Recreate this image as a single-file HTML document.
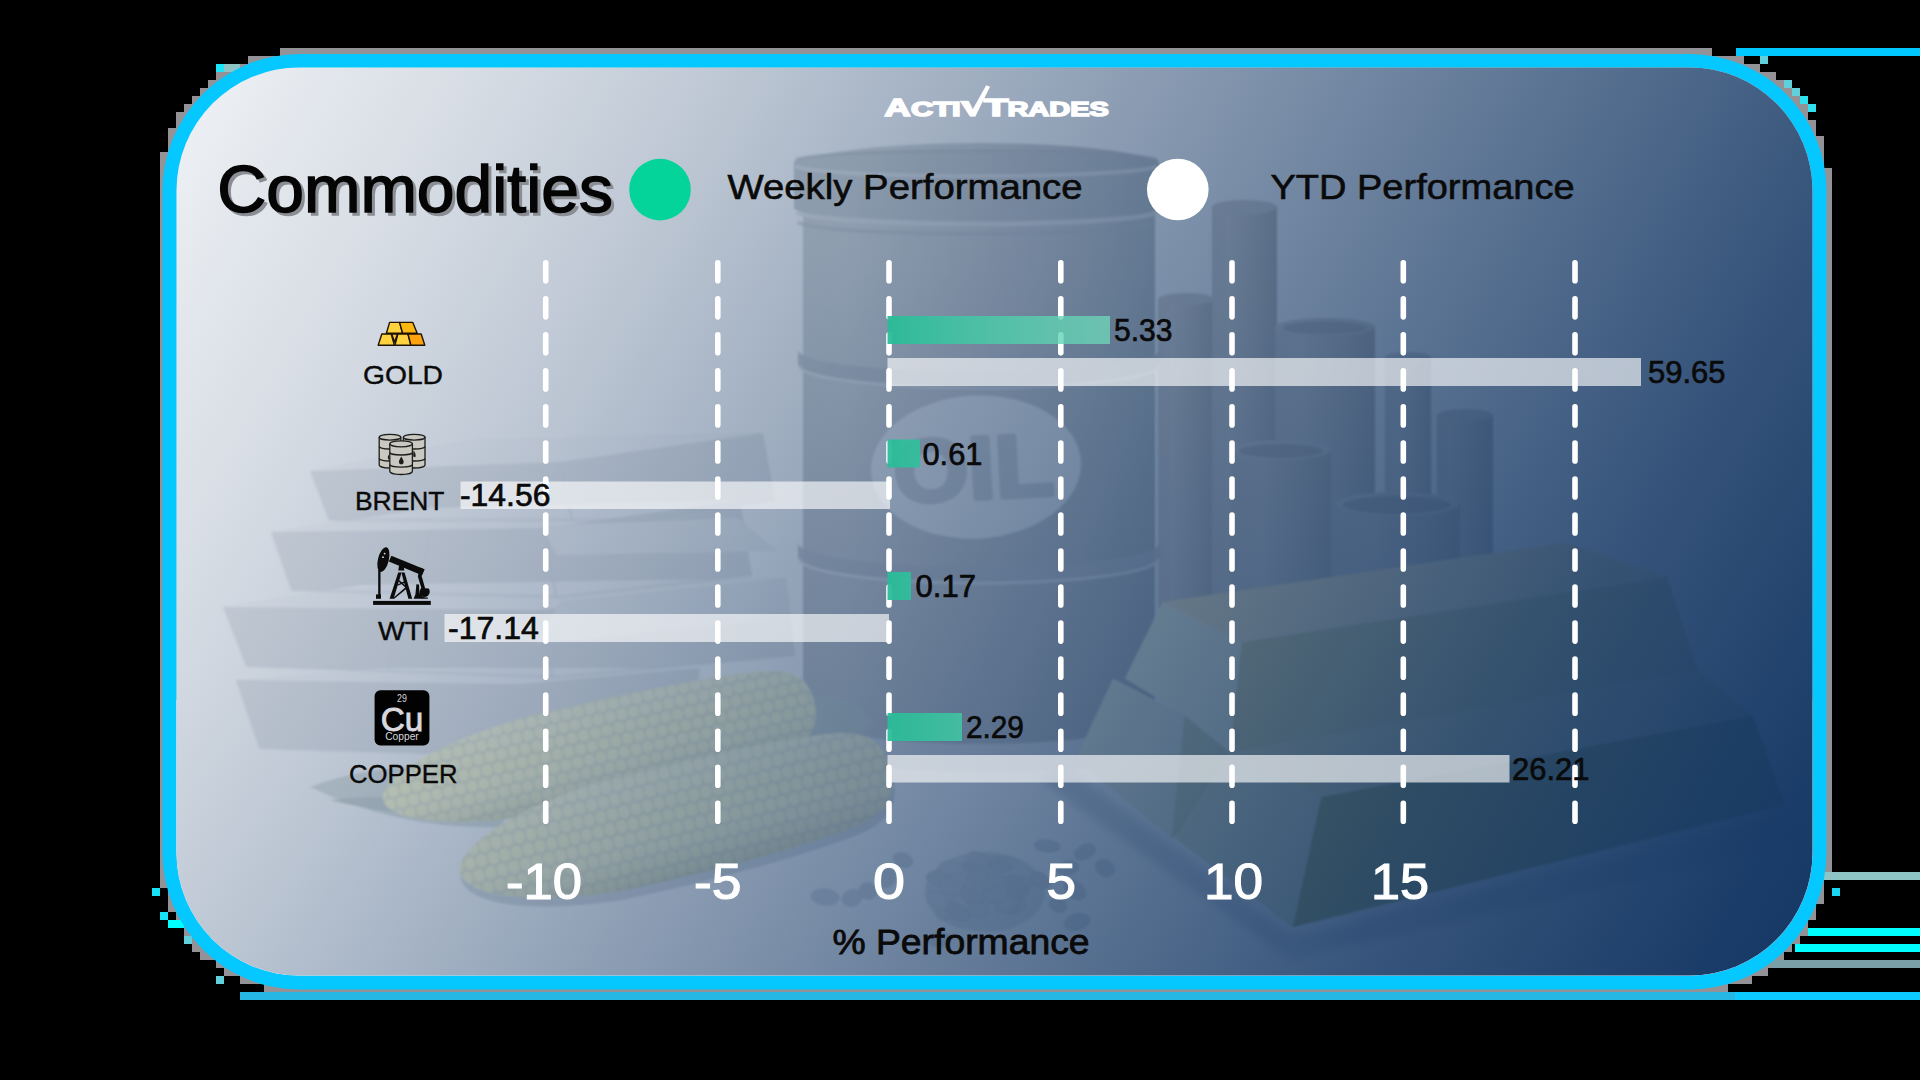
<!DOCTYPE html>
<html>
<head>
<meta charset="utf-8">
<title>Commodities</title>
<style>
  html, body { margin: 0; padding: 0; background: #000; }
  body { width: 1920px; height: 1080px; overflow: hidden; position: relative; font-family: "Liberation Sans", sans-serif; }
  svg { position: absolute; left: 0; top: 0; display: block; }
  text { font-family: "Liberation Sans", sans-serif; }
</style>
</head>
<body>
<svg width="1920" height="1080" viewBox="0 0 1920 1080">
  <defs>
    <linearGradient id="overlayGrad" gradientUnits="userSpaceOnUse" x1="176" y1="67" x2="1799.6" y2="996.6">
      <stop offset="0" stop-color="#143764" stop-opacity="0.065"/>
      <stop offset="0.14" stop-color="#143764" stop-opacity="0.17"/>
      <stop offset="0.27" stop-color="#143764" stop-opacity="0.29"/>
      <stop offset="0.43" stop-color="#143764" stop-opacity="0.47"/>
      <stop offset="0.57" stop-color="#143764" stop-opacity="0.62"/>
      <stop offset="0.78" stop-color="#143764" stop-opacity="0.84"/>
      <stop offset="0.95" stop-color="#143764" stop-opacity="0.975"/>
      <stop offset="1" stop-color="#143764" stop-opacity="1"/>
    </linearGradient>
    <linearGradient id="floorGrad" x1="0" y1="0" x2="0" y2="1">
      <stop offset="0" stop-color="#ffffff"/>
      <stop offset="1" stop-color="#fbfcfd"/>
    </linearGradient>
    <linearGradient id="pipeG" x1="0" y1="0" x2="1" y2="0">
      <stop offset="0" stop-color="#d6d3d0"/>
      <stop offset="0.25" stop-color="#dddad7"/>
      <stop offset="0.7" stop-color="#cfcbc7"/>
      <stop offset="1" stop-color="#c2beb9"/>
    </linearGradient>
    <linearGradient id="pipeG2" x1="0" y1="0" x2="1" y2="0">
      <stop offset="0" stop-color="#d3d0cd"/>
      <stop offset="0.3" stop-color="#dbd8d5"/>
      <stop offset="0.75" stop-color="#cdc9c5"/>
      <stop offset="1" stop-color="#c1bdb8"/>
    </linearGradient>
    <linearGradient id="greenGrad" gradientUnits="userSpaceOnUse" x1="888" y1="0" x2="1110" y2="0">
      <stop offset="0" stop-color="#28bc98" stop-opacity="0.94"/>
      <stop offset="1" stop-color="#71dabb" stop-opacity="0.74"/>
    </linearGradient>
    <linearGradient id="barrelV" x1="0" y1="0" x2="0" y2="1">
      <stop offset="0.2" stop-color="#1a2230" stop-opacity="0"/>
      <stop offset="1" stop-color="#1a2230" stop-opacity="0.08"/>
    </linearGradient>
    <linearGradient id="barrelGrad" x1="0" y1="0" x2="1" y2="0">
      <stop offset="0" stop-color="#d6d9db"/>
      <stop offset="0.12" stop-color="#dcdedf"/>
      <stop offset="0.5" stop-color="#d4d5d7"/>
      <stop offset="0.85" stop-color="#c8cccd"/>
      <stop offset="1" stop-color="#c0c5c7"/>
    </linearGradient>
    <pattern id="kern" width="12" height="28" patternUnits="userSpaceOnUse" patternTransform="rotate(-13)">
      <rect x="0" y="0" width="12" height="28" fill="#e8ead0"/>
      <rect x="0.8" y="0.8" width="10.4" height="12.4" rx="4.5" ry="5" fill="#fdfcd4"/>
      <rect x="-5.2" y="14.8" width="10.4" height="12.4" rx="4.5" ry="5" fill="#fdfcd4"/>
      <rect x="6.8" y="14.8" width="10.4" height="12.4" rx="4.5" ry="5" fill="#fdfcd4"/>
    </pattern>
    <pattern id="kern2" width="12" height="28" patternUnits="userSpaceOnUse">
      <rect x="0" y="0" width="12" height="28" fill="#e8ead0"/>
      <rect x="0.8" y="0.8" width="10.4" height="12.4" rx="4.5" ry="5" fill="#fdfcd4"/>
      <rect x="-5.2" y="14.8" width="10.4" height="12.4" rx="4.5" ry="5" fill="#fdfcd4"/>
      <rect x="6.8" y="14.8" width="10.4" height="12.4" rx="4.5" ry="5" fill="#fdfcd4"/>
    </pattern>
    <linearGradient id="cobShade" x1="0" y1="0" x2="0" y2="1">
      <stop offset="0" stop-color="#ffffff" stop-opacity="0.25"/>
      <stop offset="0.45" stop-color="#ffffff" stop-opacity="0"/>
      <stop offset="1" stop-color="#8a9088" stop-opacity="0.30"/>
    </linearGradient>
    <clipPath id="pipeClip">
      <polygon points="1100,100 1700,100 1700,525 1565,545 1158,608 1127,683 1100,740"/>
    </clipPath>
    <filter id="blur1" x="-5%" y="-5%" width="110%" height="110%"><feGaussianBlur stdDeviation="1"/></filter>
    <filter id="blur40" x="-50%" y="-50%" width="200%" height="200%"><feGaussianBlur stdDeviation="40"/></filter>
    <clipPath id="cardClip">
      <rect x="176.5" y="67.5" width="1636" height="908" rx="123" ry="123"/>
    </clipPath>
    <filter id="blur2" x="-5%" y="-5%" width="110%" height="110%"><feGaussianBlur stdDeviation="2"/></filter>
    <filter id="blur4" x="-5%" y="-5%" width="110%" height="110%"><feGaussianBlur stdDeviation="4"/></filter>
  </defs>

  <!-- BACKDROP / EDGE ARTIFACTS -->
  <g id="artifacts">
    <g fill="#929297" shape-rendering="crispEdges"><rect x="280" y="48" width="1432" height="8"/><rect x="248" y="56" width="1496" height="8"/><rect x="232" y="64" width="1528" height="8"/><rect x="216" y="72" width="1560" height="8"/><rect x="208" y="80" width="1576" height="8"/><rect x="200" y="88" width="1592" height="8"/><rect x="192" y="96" width="1608" height="8"/><rect x="184" y="104" width="1624" height="8"/><rect x="176" y="112" width="1632" height="8"/><rect x="176" y="120" width="1640" height="8"/><rect x="168" y="128" width="1648" height="8"/><rect x="168" y="136" width="1656" height="16"/><rect x="160" y="152" width="1664" height="16"/><rect x="160" y="168" width="1672" height="712"/><rect x="160" y="880" width="1664" height="8"/><rect x="168" y="888" width="1656" height="16"/><rect x="168" y="904" width="1648" height="8"/><rect x="176" y="912" width="1640" height="8"/><rect x="176" y="920" width="1632" height="8"/><rect x="184" y="928" width="1624" height="8"/><rect x="192" y="936" width="1608" height="8"/><rect x="192" y="944" width="1600" height="8"/><rect x="200" y="952" width="1584" height="8"/><rect x="216" y="960" width="1560" height="8"/><rect x="224" y="968" width="1544" height="8"/><rect x="240" y="976" width="1512" height="8"/><rect x="264" y="984" width="1464" height="8"/></g>
    <rect x="1736" y="48" width="184" height="8" fill="#00c8ff"/>
    <rect x="240" y="992" width="1495" height="8" fill="#27b7e4"/>
    <g fill="#16e4f6" shape-rendering="crispEdges">
      <rect x="152" y="888" width="8" height="8"/>
      <rect x="160" y="912" width="8" height="8"/>
      <rect x="168" y="920" width="16" height="8" fill="#00ffff"/>
      <rect x="184" y="936" width="8" height="8" fill="#5fd0dc"/>
      <rect x="216" y="976" width="8" height="8" fill="#5fd0dc"/>
      <rect x="216" y="64" width="24" height="8" fill="#8fc4c6"/>
      <rect x="216" y="64" width="8" height="8" fill="#19e6f7"/>
      <rect x="1760" y="56" width="8" height="8" fill="#5fd0dc"/>
      <rect x="1784" y="80" width="8" height="8" fill="#5fd0dc"/>
      <rect x="1792" y="88" width="8" height="8" fill="#5fd0dc"/>
      <rect x="1800" y="96" width="8" height="8" fill="#2fe0ee"/>
      <rect x="1808" y="104" width="8" height="8" fill="#2fe0ee"/>
      <rect x="1832" y="888" width="8" height="8" fill="#19d6f2"/>
    </g>
    <rect x="1735" y="992" width="185" height="8" fill="#0ccaff"/>
    <rect x="1824" y="872" width="96" height="8" fill="#8fc4c4"/>
    <rect x="1808" y="928" width="112" height="8" fill="#00ffff"/>
    <rect x="1795" y="944" width="125" height="8" fill="#00ffff"/>
    <rect x="1770" y="960" width="150" height="8" fill="#7a9fa6"/>
  </g>

  <!-- CARD BORDER -->
  <rect x="162.5" y="54" width="1664" height="935.5" rx="137" ry="137" fill="#04c8ff"/>

  <!-- CARD BODY -->
  <g clip-path="url(#cardClip)">
    <rect x="170" y="60" width="1650" height="920" fill="#ffffff"/>
    <g id="photo">
      <!-- floor tone -->
      <rect x="170" y="700" width="1650" height="280" fill="url(#floorGrad)"/>

      <!-- PIPES -->
      <g id="pipes" filter="url(#blur1)" clip-path="url(#pipeClip)">
        <rect x="1158" y="299" width="56" height="440" fill="url(#pipeG)"/>
        <ellipse cx="1186" cy="299" rx="28" ry="6" fill="#d9d6d3"/>
        <rect x="1212" y="207" width="65" height="440" fill="url(#pipeG)"/>
        <ellipse cx="1244.5" cy="207" rx="32.5" ry="7" fill="#dad7d4"/>
        <rect x="1385" y="357" width="46" height="200" fill="url(#pipeG)"/>
        <ellipse cx="1408" cy="357" rx="23" ry="5" fill="#d9d6d3"/>
        <rect x="1437" y="415" width="56" height="170" fill="url(#pipeG)"/>
        <ellipse cx="1465" cy="415" rx="28" ry="6" fill="#d9d6d3"/>
        <rect x="1275" y="327" width="100" height="300" fill="url(#pipeG)"/>
        <ellipse cx="1325" cy="327" rx="50" ry="9" fill="#dcd9d6"/>
        <ellipse cx="1325" cy="328" rx="42" ry="6.5" fill="#c6c2be"/>
        <rect x="1231" y="450" width="100" height="190" fill="url(#pipeG2)"/>
        <ellipse cx="1281" cy="450" rx="50" ry="10" fill="#dedbd8"/>
        <ellipse cx="1281" cy="451" rx="42" ry="7" fill="#c4c0bc"/>
        <rect x="1335" y="504" width="125" height="90" fill="url(#pipeG2)"/>
        <ellipse cx="1397" cy="504" rx="62" ry="12" fill="#dedbd8"/>
        <ellipse cx="1397" cy="505" rx="54" ry="9" fill="#c2beba"/>
      </g>

      <!-- BARREL -->
      <g id="barrel" filter="url(#blur1)">
        <ellipse cx="985" cy="742" rx="200" ry="30" fill="#e4e6ea"/>
        <path d="M803 165 L803 716 A176 28 0 0 0 1155 716 L1155 165 A176 22 0 0 0 803 165 Z" fill="url(#barrelGrad)"/>
        <path d="M803 165 L803 716 A176 28 0 0 0 1155 716 L1155 165 A176 22 0 0 0 803 165 Z" fill="url(#barrelV)"/>
        <path d="M794 162 A182.5 11 0 0 1 1159 162 L1159 208 A182.5 13 0 0 1 794 208 Z" fill="url(#barrelGrad)"/>
        <path d="M794 162 A182.5 11 0 0 1 1159 162 L1159 208 A182.5 13 0 0 1 794 208 Z" fill="#b9bec4" fill-opacity="0.25"/>
        <path d="M796 166 A181 11 0 0 0 1157 166" fill="none" stroke="#e8eaec" stroke-width="4" stroke-opacity="0.8"/>
        <path d="M796 160 A181 10 0 0 1 1157 160" fill="none" stroke="#c2c6cb" stroke-width="3" stroke-opacity="0.8"/>
        <path d="M797 212 A180 13 0 0 0 1156 212" fill="none" stroke="#e6e8ea" stroke-width="5" stroke-opacity="0.85"/>
        <path d="M798 222 A179 13 0 0 0 1155 222" fill="none" stroke="#c4c8cd" stroke-width="4" stroke-opacity="0.6"/>
        <path d="M798 350 A181 22 0 0 0 1160 350 L1160 364 A181 22 0 0 1 798 364 Z" fill="#c6cace" fill-opacity="0.9"/>
        <path d="M798 543 A181 24 0 0 0 1160 543 L1160 557 A181 24 0 0 1 798 557 Z" fill="#c6cace" fill-opacity="0.9"/>
        <path d="M800 366 A179 22 0 0 0 1158 366" fill="none" stroke="#e6e8ea" stroke-width="3"/>
        <path d="M800 559 A179 24 0 0 0 1158 559" fill="none" stroke="#e6e8ea" stroke-width="3"/>
        <g transform="rotate(-3 976 467)">
          <ellipse cx="976" cy="467" rx="105" ry="71.5" fill="#f2f4f5"/>
          <text x="893.5" y="498.5" font-size="88" font-weight="bold" fill="#d1d4d7" stroke="#d1d4d7" stroke-width="5" stroke-linejoin="round" textLength="160" lengthAdjust="spacingAndGlyphs">OIL</text>
        </g>
      </g>

      <!-- SILVER BARS -->
      <g id="silver" filter="url(#blur1)">
        <g fill="#e9eaec">
          <polygon points="311,471 470,440 763,433 775,500 640,520 330,520"/>
          <polygon points="272,532 430,508 740,500 752,575 560,597 292,590"/>
          <polygon points="224,607 360,585 786,578 795,655 560,677 247,666"/>
          <polygon points="237,680 520,676 700,668 690,740 500,755 260,748"/>
        </g>
        <g fill="#fbfbfc">
          <polygon points="311,471 470,440 763,433 560,462"/>
          <polygon points="272,532 430,508 740,500 545,528"/>
          <polygon points="224,607 360,585 786,578 540,610"/>
          <polygon points="237,680 380,668 700,668 520,684"/>
          <polygon points="541,526 738,518 777,551 557,555" fill="#f5f6f7"/>
          <polygon points="560,601 786,579 790,618 536,644" fill="#f3f4f6"/>
        </g>
        <g stroke="#e3e5e8" stroke-width="1.6" fill="none" filter="url(#blur1)">
          <path d="M311 471 L330 520 L640 520 L775 500"/>
          <path d="M272 532 L292 590 L560 597 L752 575"/>
          <path d="M224 607 L247 666 L560 677 L795 655"/>
          <path d="M237 680 L260 748 L500 755 L690 740"/>
          <path d="M560 462 L572 520 M545 528 L556 596 M540 610 L552 676 M400 611 L388 670 M430 530 L420 592"/>
        </g>
      </g>

      <!-- GOLD BARS -->
      <g id="goldbars" filter="url(#blur1)">
        <!-- ground shadow -->
        <polygon points="1060,762 1172,846 1292,936 1795,812 1810,840 1290,960 1040,780" fill="#d9dde2" filter="url(#blur4)"/>
        <!-- bottom-left bar -->
        <polygon points="1113,678.5 1184.5,715 1171.5,839 1075.6,759" fill="#f0f2dc"/>
        <polygon points="1184.5,715 1230,752 1215,800 1171.5,839" fill="#d6d8b0"/>
        <!-- bottom-right bar -->
        <polygon points="1229.8,752 1698,671 1753,715.5 1321,797" fill="#e6e2b4"/>
        <polygon points="1321,797 1753,715.5 1785.4,805 1292.5,927.3" fill="#acaf64"/>
        <polygon points="1229.8,752 1321,797 1292.5,927.3 1175,838" fill="#e4e6c6"/>
        <!-- top bar -->
        <polygon points="1162.4,602 1565.5,542.4 1667.3,577 1241.5,642.2" fill="#fef1c9"/>
        <polygon points="1241.5,642.2 1667.3,577 1697.8,670.7 1229.8,752.4" fill="#dcd8a1"/>
        <polygon points="1162.4,602 1241.5,642.2 1229.8,752.4 1184.5,715 1124.8,678.5" fill="#f9fce1"/>
      </g>

      <!-- CORN -->
      <g id="corn" filter="url(#blur1)">
        <path d="M310 787 Q380 760 470 770 Q520 800 500 827 Q400 830 310 787 Z" fill="#dfe4e2"/>
        <path d="M330 800 Q400 790 470 812 Q420 822 330 800 Z" fill="#cfd6d3"/>
        <path d="M800 698 Q850 688 874 722 Q850 752 812 746 Z" fill="#cdd5d0"/>
        <g transform="translate(383 800) rotate(-12.7) scale(1 0.89)">
          <path d="M0 0 C2 -22 50 -46 150 -55 C220 -58 340 -56 400 -47 C430 -41 442 -28 442 0 C442 28 430 41 400 47 C340 56 220 58 150 55 C50 46 2 22 0 0 Z" fill="#fbfad0"/>
          <path d="M0 0 C2 -22 50 -46 150 -55 C220 -58 340 -56 400 -47 C430 -41 442 -28 442 0 C442 28 430 41 400 47 C340 56 220 58 150 55 C50 46 2 22 0 0 Z" fill="url(#kern2)"/>
          <path d="M0 0 C2 -22 50 -46 150 -55 C220 -58 340 -56 400 -47 C430 -41 442 -28 442 0 C442 28 430 41 400 47 C340 56 220 58 150 55 C50 46 2 22 0 0 Z" fill="url(#cobShade)"/>
        </g>
        <g transform="translate(461 880) rotate(-13.6)">
          <path d="M0 0 C2 -23 50 -48 150 -57 C220 -60 340 -58 400 -49 C430 -43 444 -29 444 0 C444 29 430 43 400 49 C340 58 220 60 150 57 C50 48 2 23 0 0 Z" fill="#dde1e4"/>
        </g>
        <g transform="translate(460 873) rotate(-13.6)">
          <path d="M0 0 C2 -22 50 -46 150 -55 C220 -58 340 -56 400 -47 C430 -41 442 -28 442 0 C442 28 430 41 400 47 C340 56 220 58 150 55 C50 46 2 22 0 0 Z" fill="#fbfad0"/>
          <path d="M0 0 C2 -22 50 -46 150 -55 C220 -58 340 -56 400 -47 C430 -41 442 -28 442 0 C442 28 430 41 400 47 C340 56 220 58 150 55 C50 46 2 22 0 0 Z" fill="url(#kern2)"/>
          <path d="M0 0 C2 -22 50 -46 150 -55 C220 -58 340 -56 400 -47 C430 -41 442 -28 442 0 C442 28 430 41 400 47 C340 56 220 58 150 55 C50 46 2 22 0 0 Z" fill="url(#cobShade)"/>
        </g>
      </g>

      <!-- COFFEE BEANS -->
      <g id="beans" filter="url(#blur1)">
        <ellipse cx="985" cy="892" rx="60" ry="40" fill="#e2e6ea"/>
        <ellipse cx="977.5" cy="901.5" rx="11.2" ry="7.6" transform="rotate(11 977.5 901.5)" fill="#d6dbe0" stroke="#cfd4da" stroke-width="0.8"/>
        <ellipse cx="942.4" cy="876.5" rx="11.3" ry="7.3" transform="rotate(-20 942.4 876.5)" fill="#dde1e6" stroke="#cfd4da" stroke-width="0.8"/>
        <ellipse cx="1011.2" cy="902.6" rx="11.4" ry="6.9" transform="rotate(23 1011.2 902.6)" fill="#dbdfe4" stroke="#cfd4da" stroke-width="0.8"/>
        <ellipse cx="1020.4" cy="884.3" rx="13.9" ry="6.6" transform="rotate(-7 1020.4 884.3)" fill="#dde1e6" stroke="#cfd4da" stroke-width="0.8"/>
        <ellipse cx="981.0" cy="902.0" rx="11.9" ry="8.1" transform="rotate(-27 981.0 902.0)" fill="#dde1e6" stroke="#cfd4da" stroke-width="0.8"/>
        <ellipse cx="1014.6" cy="906.2" rx="11.3" ry="7.9" transform="rotate(-22 1014.6 906.2)" fill="#dbdfe4" stroke="#cfd4da" stroke-width="0.8"/>
        <ellipse cx="1003.8" cy="896.7" rx="12.3" ry="7.1" transform="rotate(13 1003.8 896.7)" fill="#dbdfe4" stroke="#cfd4da" stroke-width="0.8"/>
        <ellipse cx="1010.0" cy="883.7" rx="11.5" ry="8.1" transform="rotate(-18 1010.0 883.7)" fill="#d9dde2" stroke="#cfd4da" stroke-width="0.8"/>
        <ellipse cx="953.5" cy="881.9" rx="13.2" ry="7.1" transform="rotate(26 953.5 881.9)" fill="#d9dde2" stroke="#cfd4da" stroke-width="0.8"/>
        <ellipse cx="1007.7" cy="905.2" rx="11.5" ry="7.5" transform="rotate(18 1007.7 905.2)" fill="#d9dde2" stroke="#cfd4da" stroke-width="0.8"/>
        <ellipse cx="995.9" cy="890.3" rx="13.4" ry="8.1" transform="rotate(4 995.9 890.3)" fill="#d6dbe0" stroke="#cfd4da" stroke-width="0.8"/>
        <ellipse cx="972.2" cy="869.3" rx="12.4" ry="8.2" transform="rotate(6 972.2 869.3)" fill="#d6dbe0" stroke="#cfd4da" stroke-width="0.8"/>
        <ellipse cx="944.9" cy="896.2" rx="13.1" ry="7.8" transform="rotate(-31 944.9 896.2)" fill="#e0e4e8" stroke="#cfd4da" stroke-width="0.8"/>
        <ellipse cx="978.7" cy="910.2" rx="11.1" ry="7.4" transform="rotate(12 978.7 910.2)" fill="#dde1e6" stroke="#cfd4da" stroke-width="0.8"/>
        <ellipse cx="958.9" cy="878.1" rx="11.9" ry="8.0" transform="rotate(-20 958.9 878.1)" fill="#e0e4e8" stroke="#cfd4da" stroke-width="0.8"/>
        <ellipse cx="947.9" cy="911.2" rx="12.3" ry="7.6" transform="rotate(-29 947.9 911.2)" fill="#dde1e6" stroke="#cfd4da" stroke-width="0.8"/>
        <ellipse cx="1005.1" cy="864.6" rx="12.2" ry="7.2" transform="rotate(-16 1005.1 864.6)" fill="#e0e4e8" stroke="#cfd4da" stroke-width="0.8"/>
        <ellipse cx="1001.1" cy="889.2" rx="11.7" ry="7.0" transform="rotate(-23 1001.1 889.2)" fill="#e0e4e8" stroke="#cfd4da" stroke-width="0.8"/>
        <ellipse cx="994.1" cy="881.6" rx="11.4" ry="7.6" transform="rotate(-15 994.1 881.6)" fill="#dbdfe4" stroke="#cfd4da" stroke-width="0.8"/>
        <ellipse cx="938.8" cy="879.0" rx="12.5" ry="7.7" transform="rotate(13 938.8 879.0)" fill="#d9dde2" stroke="#cfd4da" stroke-width="0.8"/>
        <ellipse cx="938.9" cy="900.2" rx="13.0" ry="7.6" transform="rotate(32 938.9 900.2)" fill="#e0e4e8" stroke="#cfd4da" stroke-width="0.8"/>
        <ellipse cx="974.3" cy="897.0" rx="11.2" ry="6.6" transform="rotate(9 974.3 897.0)" fill="#dde1e6" stroke="#cfd4da" stroke-width="0.8"/>
        <ellipse cx="972.1" cy="895.2" rx="11.3" ry="7.6" transform="rotate(7 972.1 895.2)" fill="#dbdfe4" stroke="#cfd4da" stroke-width="0.8"/>
        <ellipse cx="1007.8" cy="902.7" rx="13.6" ry="7.7" transform="rotate(-33 1007.8 902.7)" fill="#dde1e6" stroke="#cfd4da" stroke-width="0.8"/>
        <ellipse cx="951.4" cy="868.0" rx="12.4" ry="6.7" transform="rotate(7 951.4 868.0)" fill="#e0e4e8" stroke="#cfd4da" stroke-width="0.8"/>
        <ellipse cx="1017.9" cy="891.1" rx="11.3" ry="6.7" transform="rotate(-1 1017.9 891.1)" fill="#d6dbe0" stroke="#cfd4da" stroke-width="0.8"/>
        <ellipse cx="983.0" cy="870.8" rx="12.5" ry="6.9" transform="rotate(13 983.0 870.8)" fill="#dbdfe4" stroke="#cfd4da" stroke-width="0.8"/>
        <ellipse cx="958.1" cy="912.2" rx="13.3" ry="7.1" transform="rotate(29 958.1 912.2)" fill="#d9dde2" stroke="#cfd4da" stroke-width="0.8"/>
        <ellipse cx="977.3" cy="878.1" rx="11.5" ry="8.0" transform="rotate(-9 977.3 878.1)" fill="#dbdfe4" stroke="#cfd4da" stroke-width="0.8"/>
        <ellipse cx="951.7" cy="886.4" rx="12.8" ry="8.1" transform="rotate(10 951.7 886.4)" fill="#dde1e6" stroke="#cfd4da" stroke-width="0.8"/>
        <ellipse cx="1000.9" cy="864.5" rx="11.7" ry="7.5" transform="rotate(17 1000.9 864.5)" fill="#d6dbe0" stroke="#cfd4da" stroke-width="0.8"/>
        <ellipse cx="978.8" cy="859.4" rx="12.4" ry="6.9" transform="rotate(20 978.8 859.4)" fill="#dbdfe4" stroke="#cfd4da" stroke-width="0.8"/>
        <ellipse cx="1015.9" cy="886.5" rx="14.0" ry="8.4" transform="rotate(31 1015.9 886.5)" fill="#d6dbe0" stroke="#cfd4da" stroke-width="0.8"/>
        <ellipse cx="996.6" cy="896.1" rx="12.0" ry="7.5" transform="rotate(-2 996.6 896.1)" fill="#dbdfe4" stroke="#cfd4da" stroke-width="0.8"/>
        <ellipse cx="825" cy="897" rx="14" ry="8" transform="rotate(5 825 897)" fill="#dce0e5" stroke="#cfd4da" stroke-width="0.8"/>
        <ellipse cx="852" cy="898" rx="10" ry="8" transform="rotate(-20 852 898)" fill="#dce0e5" stroke="#cfd4da" stroke-width="0.8"/>
        <ellipse cx="868" cy="891" rx="9" ry="8" transform="rotate(30 868 891)" fill="#dce0e5" stroke="#cfd4da" stroke-width="0.8"/>
        <ellipse cx="886" cy="878" rx="10" ry="9" transform="rotate(-40 886 878)" fill="#dce0e5" stroke="#cfd4da" stroke-width="0.8"/>
        <ellipse cx="903" cy="860" rx="10" ry="7" transform="rotate(20 903 860)" fill="#dce0e5" stroke="#cfd4da" stroke-width="0.8"/>
        <ellipse cx="1047" cy="846" rx="13" ry="6" transform="rotate(5 1047 846)" fill="#dce0e5" stroke="#cfd4da" stroke-width="0.8"/>
        <ellipse cx="1085" cy="852" rx="11" ry="7" transform="rotate(-25 1085 852)" fill="#dce0e5" stroke="#cfd4da" stroke-width="0.8"/>
        <ellipse cx="1105" cy="868" rx="10" ry="8" transform="rotate(30 1105 868)" fill="#dce0e5" stroke="#cfd4da" stroke-width="0.8"/>
        <ellipse cx="1068" cy="868" rx="11" ry="7" transform="rotate(-10 1068 868)" fill="#dce0e5" stroke="#cfd4da" stroke-width="0.8"/>
        <ellipse cx="1075" cy="890" rx="12" ry="8" transform="rotate(40 1075 890)" fill="#dce0e5" stroke="#cfd4da" stroke-width="0.8"/>
        <ellipse cx="1077" cy="922" rx="13" ry="8" transform="rotate(-15 1077 922)" fill="#dce0e5" stroke="#cfd4da" stroke-width="0.8"/>
        <ellipse cx="1058" cy="905" rx="9" ry="7" transform="rotate(20 1058 905)" fill="#dce0e5" stroke="#cfd4da" stroke-width="0.8"/>
        <ellipse cx="940" cy="940" rx="12" ry="7" transform="rotate(-5 940 940)" fill="#dce0e5" stroke="#cfd4da" stroke-width="0.8"/>
        <ellipse cx="1040" cy="880" rx="11" ry="7" transform="rotate(35 1040 880)" fill="#dce0e5" stroke="#cfd4da" stroke-width="0.8"/>
      </g>
    </g>
    <!-- BLUE OVERLAY -->
    <rect x="170" y="60" width="1650" height="920" fill="url(#overlayGrad)"/>
  </g>

  <!-- CONTENT -->
  <g id="content">
    <!-- LOGO placeholder -->
    <g id="logo">
      <g fill="#ffffff" font-weight="bold" stroke="#ffffff" stroke-width="1.5" stroke-linejoin="miter">
        <text x="884.6" y="115.6" font-size="24" textLength="26" lengthAdjust="spacingAndGlyphs">A</text>
        <text x="911" y="115.6" font-size="19.4" textLength="49.5" lengthAdjust="spacingAndGlyphs">CTI</text>
        <polygon stroke-width="0.4" points="960,101 968.6,101 972.8,109.6 986.3,85.6 989.8,86.8 975.2,116.4 970,116.4"/>
        <text x="984" y="115.6" font-size="24" textLength="24.4" lengthAdjust="spacingAndGlyphs">T</text>
        <text x="1007.4" y="115.6" font-size="19.4" textLength="101.4" lengthAdjust="spacingAndGlyphs">RADES</text>
      </g>
    </g>

    <!-- TITLE -->
    <text x="220.3" y="215" font-size="66" fill="#8b8e94" stroke="#8b8e94" stroke-width="1.5" textLength="395.5" lengthAdjust="spacingAndGlyphs">Commodities</text>
    <text x="217.3" y="212" font-size="66" fill="#050505" stroke="#050505" stroke-width="1.5" textLength="395.5" lengthAdjust="spacingAndGlyphs">Commodities</text>

    <!-- LEGEND -->
    <circle cx="660" cy="189.6" r="30.8" fill="#04d39a"/>
    <text x="727.4" y="199.1" font-size="35.8" fill="#0a0a0a" stroke="#0a0a0a" stroke-width="0.6" textLength="355.2" lengthAdjust="spacingAndGlyphs">Weekly Performance</text>
    <circle cx="1177.8" cy="189.5" r="30.8" fill="#ffffff"/>
    <text x="1270.4" y="199.1" font-size="35.8" fill="#0a0a0a" stroke="#0a0a0a" stroke-width="0.6" textLength="304.2" lengthAdjust="spacingAndGlyphs">YTD Performance</text>

    <!-- GRIDLINES -->
    <g id="grid" stroke="#ffffff" stroke-width="5.6" stroke-linecap="round" stroke-dasharray="18 18.03" fill="none">
      <line x1="545.7" y1="262.8" x2="545.7" y2="821.3"/>
      <line x1="717.8" y1="262.8" x2="717.8" y2="821.3"/>
      <line x1="889" y1="262.8" x2="889" y2="821.3"/>
      <line x1="1060.8" y1="262.8" x2="1060.8" y2="821.3"/>
      <line x1="1232" y1="262.8" x2="1232" y2="821.3"/>
      <line x1="1403.3" y1="262.8" x2="1403.3" y2="821.3"/>
      <line x1="1575" y1="262.8" x2="1575" y2="821.3"/>
    </g>

    <!-- BARS -->
    <g id="bars">
      <rect x="887.5" y="316" width="222.5" height="28" fill="url(#greenGrad)"/>
      <rect x="887.5" y="358" width="753.5" height="28" fill="#ffffff" fill-opacity="0.63"/>
      <rect x="887.5" y="439.5" width="32.5" height="28" fill="url(#greenGrad)"/>
      <rect x="460.5" y="481.5" width="429.5" height="27.5" fill="#ffffff" fill-opacity="0.63"/>
      <rect x="887.5" y="572" width="23.5" height="28" fill="url(#greenGrad)"/>
      <rect x="444.5" y="614" width="444.5" height="28" fill="#ffffff" fill-opacity="0.63"/>
      <rect x="887.5" y="713" width="74.5" height="28" fill="url(#greenGrad)"/>
      <rect x="887.5" y="755" width="622" height="27.5" fill="#ffffff" fill-opacity="0.63"/>
    </g>

    <!-- VALUE LABELS -->
    <g font-size="31.5" fill="#0a0a0a" stroke="#0a0a0a" stroke-width="0.7">
      <text x="1114" y="341.3" textLength="58.4" lengthAdjust="spacingAndGlyphs">5.33</text>
      <text x="1648" y="383.4" textLength="77.4" lengthAdjust="spacingAndGlyphs">59.65</text>
      <text x="922.5" y="464.8" textLength="59.9" lengthAdjust="spacingAndGlyphs">0.61</text>
      <text x="460" y="506.3" textLength="90.4" lengthAdjust="spacingAndGlyphs">-14.56</text>
      <text x="915.6" y="597.3" textLength="60.4" lengthAdjust="spacingAndGlyphs">0.17</text>
      <text x="448" y="639.3" textLength="90.9" lengthAdjust="spacingAndGlyphs">-17.14</text>
      <text x="966" y="738.3" textLength="57.9" lengthAdjust="spacingAndGlyphs">2.29</text>
      <text x="1512" y="780.2" textLength="77.4" lengthAdjust="spacingAndGlyphs">26.21</text>
    </g>

    <!-- CATEGORY LABELS -->
    <g font-size="26.4" fill="#0a0a0a" stroke="#0a0a0a" stroke-width="0.4">
      <text x="363" y="383.5" textLength="80" lengthAdjust="spacingAndGlyphs">GOLD</text>
      <text x="355" y="509.5" textLength="89.5" lengthAdjust="spacingAndGlyphs">BRENT</text>
      <text x="378" y="640" textLength="52" lengthAdjust="spacingAndGlyphs">WTI</text>
      <text x="349" y="783" textLength="108.5" lengthAdjust="spacingAndGlyphs">COPPER</text>
    </g>

    <!-- ICONS placeholder -->
    <g id="icons">
      <!-- gold -->
      <g stroke="#1e1305" stroke-width="1.4" stroke-linejoin="round">
        <polygon points="389.6,322.4 399.6,322.4 402.6,333.3 386.4,333.3" fill="#fdd23c"/>
        <polygon points="399.6,322.4 412.8,322.4 417.2,333.3 402.6,333.3" fill="#fdb811"/>
        <polygon points="391.6,334 397.6,334 394.6,342" fill="#fcc42c"/>
        <polygon points="381.8,334 391.2,334 394.4,345.2 378.2,345.2" fill="#fdd23c"/>
        <polygon points="397.9,334 408,334 410.9,345.2 394.9,345.2" fill="#fdd440"/>
        <polygon points="408,334 421.2,334 424.8,345.2 410.9,345.2" fill="#fea30d"/>
      </g>
      <!-- brent barrels -->
      <g stroke="#1d1d1b" stroke-width="1.3" fill="#c9c9c1" stroke-linejoin="round">
        <path d="M379.2 437.2 L379.2 465 A10.8 3 0 0 0 400.8 465 L400.8 437.2 Z"/>
        <ellipse cx="390" cy="437.2" rx="10.8" ry="2.9"/>
        <path d="M379.2 446.5 A10.8 2.5 0 0 0 400.8 446.5 M379.2 458.5 A10.8 2.5 0 0 0 400.8 458.5" fill="none"/>
        <path d="M403.4 437.2 L403.4 465 A10.8 3 0 0 0 425 465 L425 437.2 Z"/>
        <ellipse cx="414.2" cy="437.2" rx="10.8" ry="2.9"/>
        <path d="M403.4 446.5 A10.8 2.5 0 0 0 425 446.5 M403.4 458.5 A10.8 2.5 0 0 0 425 458.5" fill="none"/>
        <path d="M389.8 443.8 L389.8 471.3 A11.3 3.2 0 0 0 412.4 471.3 L412.4 443.8 Z"/>
        <ellipse cx="401.1" cy="443.8" rx="11.3" ry="3"/>
        <path d="M389.8 452.4 A11.3 2.6 0 0 0 412.4 452.4 M389.8 464.6 A11.3 2.6 0 0 0 412.4 464.6" fill="none"/>
        <path d="M401.3 456.6 C402.8 459.3 403.7 460.6 403.7 462 A2.4 2.4 0 0 1 398.9 462 C398.9 460.6 399.8 459.3 401.3 456.6 Z" fill="#1d1d1b" stroke="none"/>
        <path d="M413.4 450.5 C415.4 452.5 416 455 415.4 457.2 L413.2 456.6 Z" fill="#1d1d1b" stroke="none"/>
        <path d="M389 454.5 C387.6 456 387.4 458 388.4 459.6 L389.6 459.4 Z" fill="#1d1d1b" stroke="none"/>
      </g>
      <!-- WTI pumpjack -->
      <g fill="#0b0b0b" stroke="none">
        <rect x="373.1" y="600.9" width="57.7" height="4"/>
        <ellipse cx="383.4" cy="559.6" rx="5.4" ry="12.6" transform="rotate(14 383.4 559.6)"/>
        <rect x="378.2" y="570" width="2.3" height="25"/>
        <rect x="376" y="594.4" width="5" height="4.4"/>
        <polygon points="391.4,555.8 424.4,569.2 421.9,575.2 388.8,561.6"/>
        <path d="M398.3 570.6 L398.9 566.6 A2.5 2.5 0 0 1 403.7 566.6 L404.3 570.6 Z"/>
        <polygon points="398.2,572.6 401.6,572.6 393.6,598.7 389.6,598.7"/>
        <polygon points="401.4,572.6 404.6,572.6 412.2,598.7 408.4,598.7"/>
        <polygon points="398.6,581.4 399.4,580.2 406.4,586.4 405.6,587.8"/>
        <polygon points="405.8,587 406.8,588.4 394.6,598.4 392.6,598.4"/>
        <polygon points="397.6,585.8 398.2,584.2 405.6,580.6 406,582.2"/>
        <polygon points="420.4,567.6 424.6,569.4 421.6,576 425.2,588.6 421.8,589.6 417.8,576.2"/>
        <path d="M421.2 588 L428.6 588.4 C430.4 590.4 430 594 427.6 596 C425.2 597.6 421.6 597.2 420 595 C419 593 419.6 590 421.2 588 Z"/>
        <path d="M416.4 584.2 L419 584.6 L419.4 592.6 C420 595.6 423 597.6 427.8 597.6 L427.8 598.8 L413.6 598.8 L415.4 594.4 Z"/>
        <circle cx="384.6" cy="553.6" r="0.9" fill="#dfe3e8"/>
        <circle cx="383" cy="557.2" r="0.9" fill="#dfe3e8"/>
      </g>
      <!-- copper -->
      <g>
        <rect x="374.6" y="690.3" width="54.8" height="55.1" rx="5.8" ry="5.8" fill="#020202"/>
        <g fill="#d8d8de" text-anchor="middle">
          <text x="401.9" y="702.3" font-size="10.4" textLength="9.8" lengthAdjust="spacingAndGlyphs">29</text>
          <text x="402.1" y="731.2" font-size="33.8" stroke="#d8d8de" stroke-width="0.9" textLength="42.6" lengthAdjust="spacingAndGlyphs">Cu</text>
          <text x="402" y="740.2" font-size="10.6" textLength="33.6" lengthAdjust="spacingAndGlyphs">Copper</text>
        </g>
      </g>
    </g>

    <!-- AXIS LABELS -->
    <g font-size="50" fill="#ffffff" stroke="#ffffff" stroke-width="1.2">
      <text x="506" y="899.2" textLength="76" lengthAdjust="spacingAndGlyphs">-10</text>
      <text x="694" y="899.2" textLength="47.5" lengthAdjust="spacingAndGlyphs">-5</text>
      <text x="873" y="899.2" textLength="32" lengthAdjust="spacingAndGlyphs">0</text>
      <text x="1046.5" y="899.2" textLength="29.5" lengthAdjust="spacingAndGlyphs">5</text>
      <text x="1204" y="899.2" textLength="59" lengthAdjust="spacingAndGlyphs">10</text>
      <text x="1371" y="899.2" textLength="58" lengthAdjust="spacingAndGlyphs">15</text>
    </g>
    <text x="832.4" y="954.3" font-size="35.6" fill="#0a0a0a" stroke="#0a0a0a" stroke-width="0.8" textLength="257.2" lengthAdjust="spacingAndGlyphs">% Performance</text>
  </g>
</svg>
</body>
</html>
